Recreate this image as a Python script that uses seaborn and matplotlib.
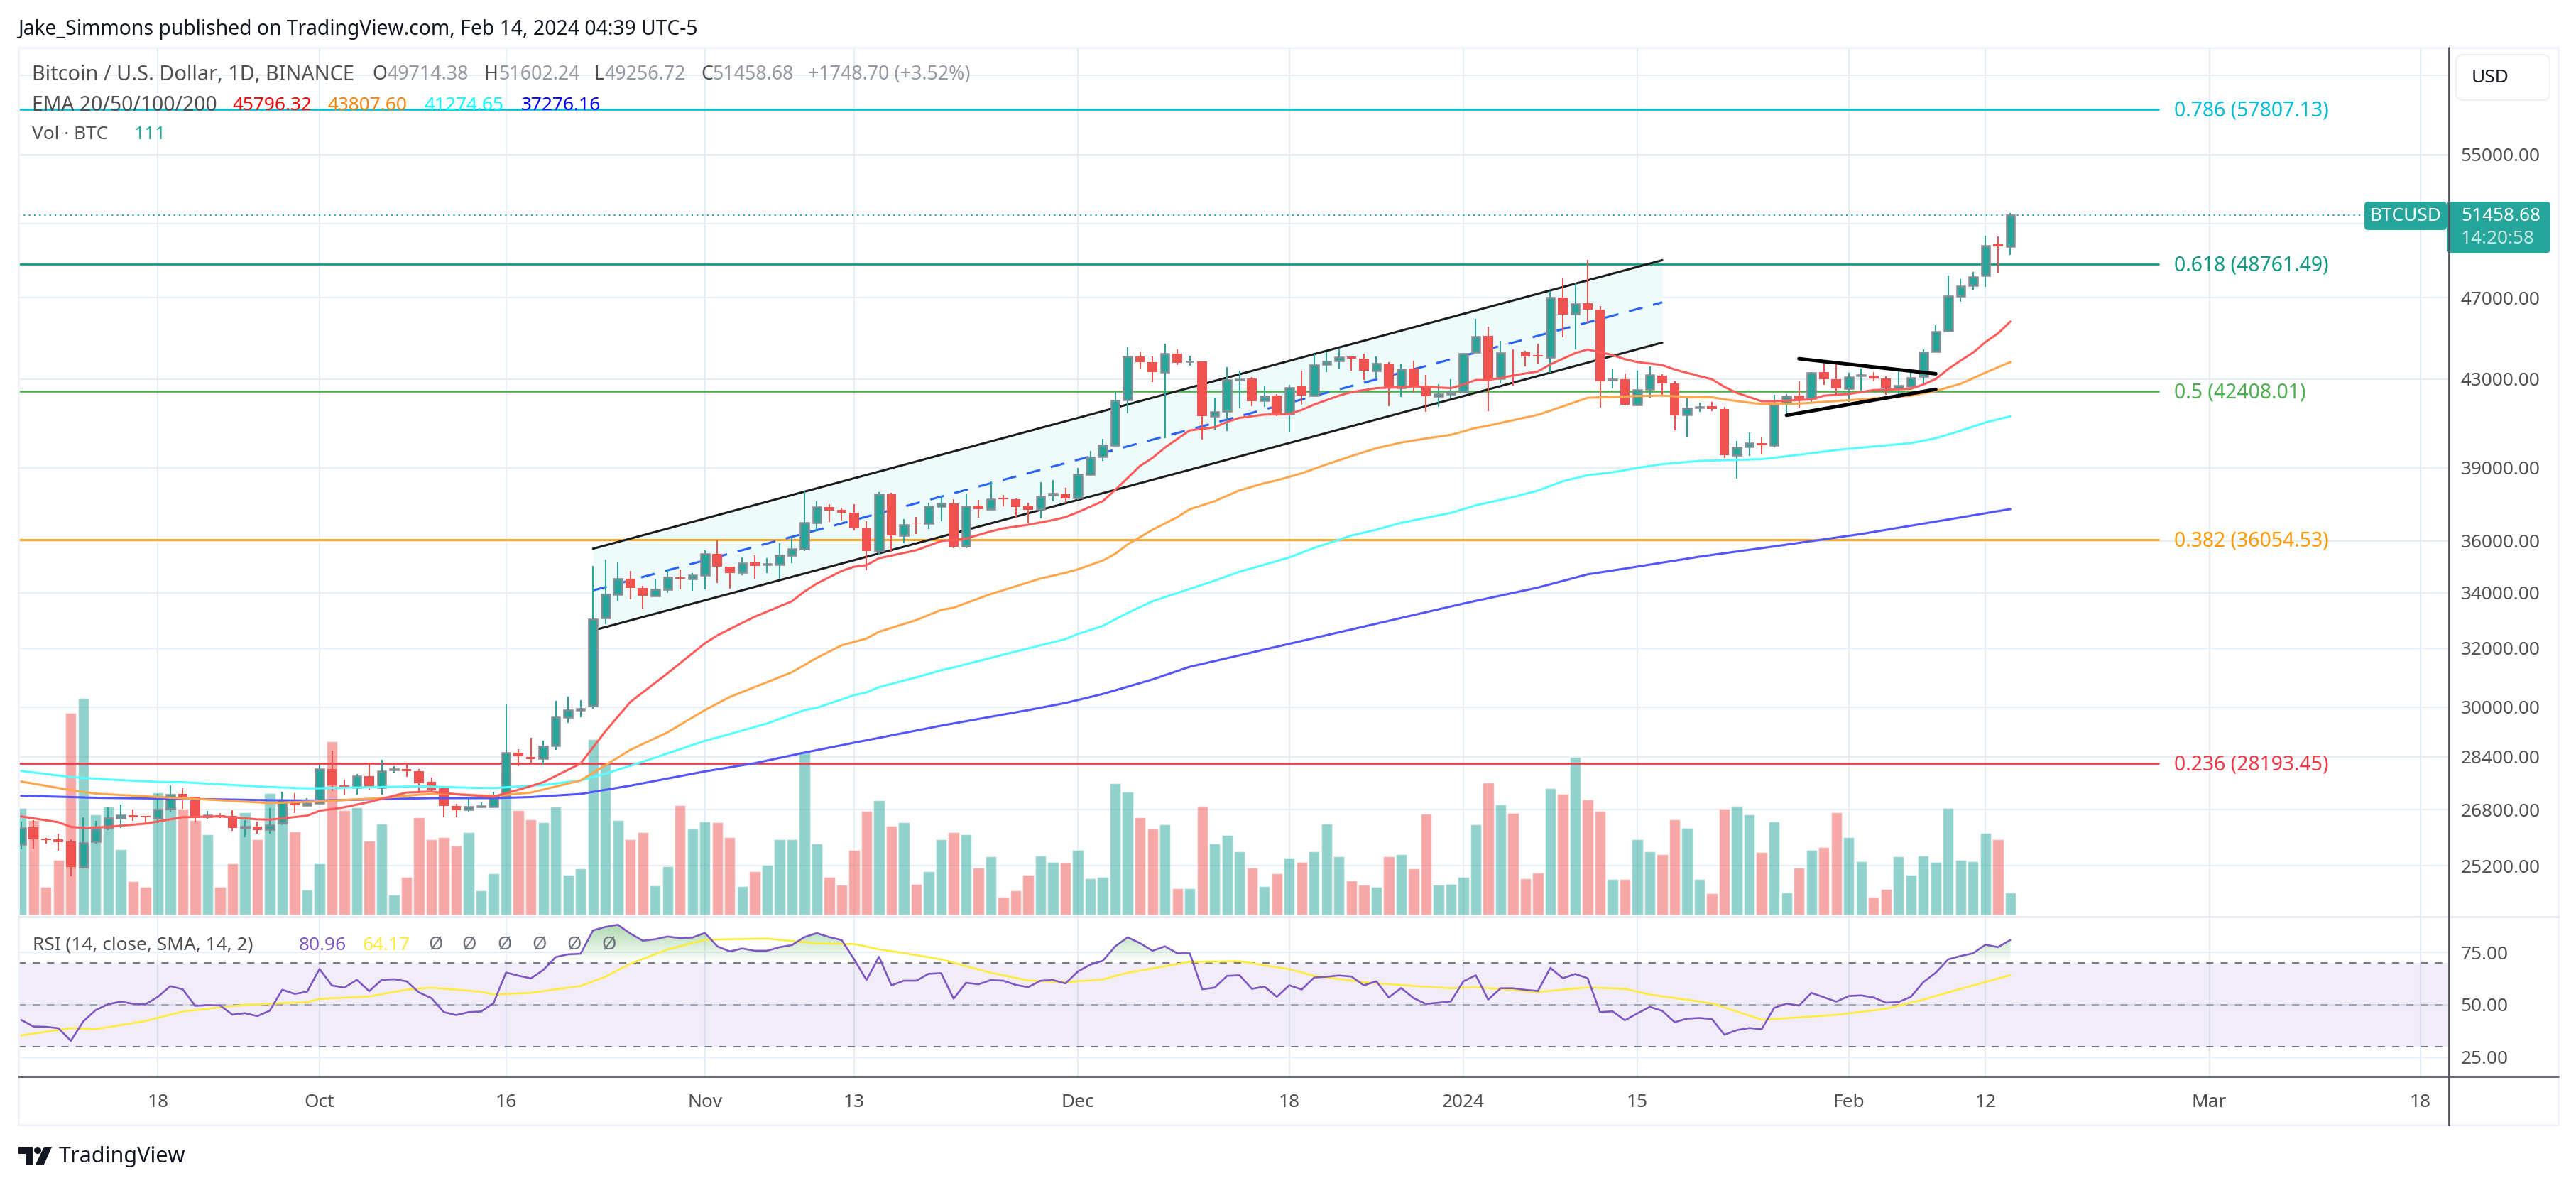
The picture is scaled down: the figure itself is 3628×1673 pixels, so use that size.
import numpy as np
import pandas as pd
import seaborn as sns
import matplotlib
matplotlib.use('Agg')
import matplotlib.pyplot as plt
import matplotlib.dates as mdates
from matplotlib.patches import FancyBboxPatch, Polygon, Circle, Rectangle
from matplotlib.path import Path
from matplotlib.ticker import NullLocator

# Daily candles, 7 Sep 2023 to 14 Feb 2024 (one line per month)
open_prices = [
    25801, 26290, 25970, 25936, 25874, 25156, 25874, 26269, 26560, 26643, 26612, 26550, 26820, 27278, 27174, 26602, 26633, 26623, 26269, 26300, 26217, 26404, 27090, 26934,
    26996, 28016, 27517, 27455, 27808, 27455, 28000, 28026, 27964, 27642, 27434, 26914, 26800, 26883, 26893, 27205, 28532, 28401, 28346, 28752, 29671, 29901, 30038, 33089, 33942, 34521, 34183, 33889, 34138, 34574, 34538,
    34672, 35476, 34985, 34778, 35152, 35068, 35078, 35430, 35680, 36731, 37349, 37240, 37125, 36495, 35606, 37895, 36208, 36731, 36700, 37390, 37510, 35798, 37410, 37285, 37742, 37675, 37410, 37266, 37870, 37881,
    37732, 38722, 39480, 39980, 42034, 44087, 43783, 43322, 44222, 43828, 43828, 41288, 41504, 42940, 43018, 42002, 42218, 41374, 42640, 42240, 43693, 43873, 44065, 43974, 43389, 43715, 42602, 43490, 42636, 42186, 42283,
    42392, 44290, 45092, 43018, 44290, 44278, 44132, 44030, 47016, 46176, 46724, 46395, 42940, 42985, 41796, 42511, 43165, 42793, 41342, 41677, 41731, 41612, 39553, 39928, 40085, 39980, 41872, 42218, 42076, 43320, 42985,
    42546, 43150, 43154, 43018, 42568, 42658, 43108, 44318, 45313, 47100, 47648, 48163, 49840, 49714.38]
high_prices = [
    26461, 26498, 25975, 26103, 25936, 26581, 26477, 26872, 26945, 26810, 26620, 27260, 27533, 27434, 27180, 26768, 26706, 26790, 26498, 26456, 26851, 27329, 27288, 27132,
    28162, 28598, 27694, 27860, 28162, 28302, 28105, 28162, 28016, 27756, 27496, 26976, 27122, 27018, 27340, 30076, 28642, 28992, 28905, 30197, 30350, 30219, 35030, 35263, 35152, 34832, 34272, 34512, 34850, 34892, 34760,
    35633, 36022, 35000, 35356, 35430, 35328, 35911, 36143, 38021, 37598, 37480, 37340, 37480, 36780, 37990, 37960, 36880, 36950, 37540, 37800, 37680, 37885, 37650, 38420, 37850, 37722, 37530, 38390, 38490, 38150,
    38992, 39740, 40260, 42380, 44528, 44312, 44065, 44706, 44402, 44110, 43850, 42131, 43558, 43400, 43100, 42650, 42294, 42727, 43400, 44222, 44312, 44425, 44070, 44200, 44065, 43783, 43727, 43862, 43198, 42750, 42996,
    44256, 45932, 45546, 44845, 44425, 44346, 44686, 47356, 48012, 47746, 49010, 46578, 43445, 43266, 43400, 43603, 43232, 42928, 42186, 41900, 41937, 41698, 40178, 40552, 40324, 42261, 42294, 42896, 43320, 43890, 43757,
    43300, 43480, 43320, 43130, 43530, 43355, 44424, 45593, 48163, 47999, 48340, 50313, 50274, 51602.24]
low_prices = [
    25659, 25676, 25830, 25624, 24917, 25125, 25822, 26197, 26269, 26477, 26394, 26404, 26716, 26820, 26425, 26529, 26560, 26186, 25999, 26113, 26103, 26352, 26706, 26924,
    26976, 27361, 27226, 27247, 27392, 27247, 27912, 27777, 27340, 27330, 26581, 26581, 26727, 26841, 26872, 27184, 28100, 28226, 28172, 28620, 29485, 29671, 29944, 32858, 33719, 33772, 33432, 33880, 33996, 34120, 34066,
    34120, 34360, 34165, 34672, 34521, 34760, 34539, 35143, 35587, 36376, 36760, 36808, 36408, 34850, 35420, 35540, 35893, 36280, 36466, 36770, 35700, 35696, 36931, 37256, 37380, 36920, 36731, 36900, 37598, 37530,
    37656, 38672, 39303, 39960, 41395, 43445, 42839, 40282, 43648, 43614, 40230, 40687, 40625, 41634, 41720, 41688, 41266, 40563, 41807, 42218, 43333, 43468, 43378, 42962, 43063, 41720, 42164, 42348, 41461, 41688, 42110,
    42348, 44256, 41515, 42793, 42700, 43603, 43738, 43277, 45020, 44402, 45700, 41677, 42569, 41770, 41785, 42110, 42218, 40656, 40313, 41461, 41515, 39439, 38552, 39532, 39564, 39875, 41407, 41644, 41861, 42736, 42294,
    41937, 42350, 42872, 42261, 42261, 42512, 42736, 44283, 45250, 46797, 47440, 47587, 48300, 49256.72]
close_prices = [
    26269, 25936, 25930, 25853, 25156, 25832, 26248, 26550, 26643, 26581, 26581, 26810, 27247, 27132, 26560, 26633, 26602, 26269, 26300, 26207, 26352, 27059, 26934, 26996,
    28016, 27517, 27434, 27798, 27434, 27964, 28030, 27954, 27600, 27403, 26914, 26789, 26883, 26914, 27184, 28521, 28423, 28335, 28730, 29660, 29901, 29945, 33045, 33933, 34521, 34183, 33889, 34120, 34574, 34521, 34672,
    35476, 34985, 34760, 35143, 35032, 35096, 35420, 35671, 36712, 37349, 37212, 37125, 36495, 35587, 37895, 36208, 36648, 36686, 37380, 37500, 35752, 37400, 37285, 37694, 37694, 37370, 37256, 37810, 37905, 37722,
    38712, 39459, 39969, 42002, 44086, 43783, 43310, 44222, 43749, 43850, 41266, 41482, 42940, 43000, 41948, 42175, 41331, 42586, 42240, 43659, 43850, 44053, 43963, 43378, 43715, 42569, 43445, 42636, 42175, 42283, 42392,
    44222, 45040, 42985, 44233, 44268, 44087, 44087, 47016, 46164, 46675, 46383, 42884, 42985, 41785, 42500, 43176, 42771, 41298, 41645, 41710, 41590, 39563, 39897, 40063, 39970, 41807, 42207, 42002, 43300, 42985, 42568,
    43075, 43190, 43007, 42602, 42680, 43041, 44295, 45289, 47076, 47624, 48100, 49788, 49714, 51458.68]
volumes = [
    538, 477, 138, 277, 1018, 1091, 503, 544, 328, 169, 141, 614, 544, 535, 477, 406, 138, 256, 517, 381, 611, 561, 420, 127,
    259, 872, 528, 542, 374, 457, 99, 191, 489, 381, 392, 346, 417, 120, 207, 720, 528, 478, 464, 545, 199, 231, 886, 764, 475, 381, 417, 148, 242, 552, 434,
    468, 464, 392, 144, 217, 249, 378, 378, 821, 357, 191, 152, 324, 524, 578, 449, 467, 155, 220, 381, 417, 406, 238, 292, 91, 120, 201, 298, 266, 260,
    327, 184, 188, 664, 621, 489, 432, 453, 131, 131, 549, 357, 400, 317, 238, 144, 209, 287, 266, 320, 460, 295, 171, 152, 141, 292, 306, 231, 510, 149, 155,
    188, 456, 667, 556, 513, 184, 212, 639, 610, 793, 581, 524, 180, 180, 378, 320, 303, 481, 438, 180, 106, 532, 546, 503, 314, 470, 112, 238, 327, 341, 516,
    392, 270, 88, 128, 292, 201, 298, 266, 538, 277, 270, 410, 381, 111]
rsi_values = [
    42.8, 39.6, 39.5, 38.8, 32.8, 42.1, 47.5, 50.3, 51.5, 50.5, 50.2, 53.8, 58.9, 57.4, 49.5, 49.8, 49.7, 45.3, 46.0, 44.6, 47.2, 57.2, 55.2, 56.2,
    67.1, 59.2, 58.2, 61.9, 56.5, 61.9, 62.2, 61.2, 55.9, 53.2, 46.5, 45.1, 46.5, 46.8, 50.8, 65.4, 63.9, 62.6, 66.6, 72.8, 74.1, 74.4, 85.5, 87.2, 88.2, 84.0, 80.6, 81.3, 82.6, 81.8, 82.1,
    84.3, 77.9, 75.5, 76.9, 75.8, 75.8, 77.5, 78.5, 82.3, 84.2, 82.3, 80.9, 71.7, 61.8, 72.9, 59.3, 61.5, 61.5, 64.8, 65.1, 52.9, 60.5, 59.8, 61.8, 61.5, 59.5, 58.4, 61.5, 61.8, 60.2,
    65.9, 69.2, 71.0, 77.9, 82.2, 79.4, 75.8, 77.9, 74.6, 74.6, 57.4, 58.2, 63.8, 64.1, 57.6, 58.7, 53.8, 59.3, 57.3, 63.0, 63.4, 64.0, 63.5, 59.3, 61.2, 53.5, 58.0, 53.2, 50.4, 51.0, 51.6,
    61.2, 64.1, 52.5, 57.9, 57.9, 57.1, 56.6, 67.6, 62.7, 64.7, 62.7, 46.5, 46.9, 42.6, 45.9, 49.0, 47.1, 41.7, 43.4, 43.7, 43.2, 35.7, 37.9, 38.9, 38.4, 48.5, 50.6, 49.6, 55.7, 53.6, 51.5,
    54.2, 54.5, 53.5, 51.0, 51.3, 53.8, 60.8, 65.3, 71.7, 73.3, 74.6, 78.7, 77.5, 80.96]

# Moving averages, read at the visible vertices
ema20_dates = ['Sep 7', 'Sep 10', 'Sep 11', 'Sep 12', 'Sep 14', 'Sep 17', 'Sep 20', 'Sep 23', 'Sep 26', 'Sep 27', 'Sep 30', 'Oct 1', 'Oct 3', 'Oct 5', 'Oct 8', 'Oct 10', 'Oct 12', 'Oct 15', 'Oct 17', 'Oct 19', 'Oct 22', 'Oct 24', 'Oct 26', 'Oct 27', 'Oct 29', 'Nov 1', 'Nov 2', 'Nov 4', 'Nov 5', 'Nov 8', 'Nov 9', 'Nov 10', 'Nov 12', 'Nov 13', 'Nov 14', 'Nov 15', 'Nov 16', 'Nov 18', 'Nov 20', 'Nov 22', 'Nov 24', 'Nov 25', 'Nov 27', 'Nov 29', 'Nov 30', 'Dec 1', 'Dec 3', 'Dec 4', 'Dec 5', 'Dec 6', 'Dec 7', 'Dec 8', 'Dec 9', 'Dec 10', 'Dec 11', 'Dec 12', 'Dec 13', 'Dec 14', 'Dec 16', 'Dec 18', 'Dec 19', 'Dec 20', 'Dec 22', 'Dec 23', 'Dec 25', 'Dec 27', 'Dec 28', 'Dec 31', 'Jan 1', 'Jan 2', 'Jan 3', 'Jan 4', 'Jan 5', 'Jan 7', 'Jan 8', 'Jan 10', 'Jan 11', 'Jan 12', 'Jan 13', 'Jan 14', 'Jan 15', 'Jan 17', 'Jan 18', 'Jan 20', 'Jan 21', 'Jan 22', 'Jan 23', 'Jan 25', 'Jan 26', 'Jan 29', 'Jan 30', 'Feb 1', 'Feb 3', 'Feb 6', 'Feb 7', 'Feb 8', 'Feb 9', 'Feb 10', 'Feb 11', 'Feb 12', 'Feb 13', 'Feb 14']
ema20_values = [26602, 26435, 26300, 26269, 26300, 26394, 26581, 26602, 26519, 26508, 26623, 26768, 26872, 27028, 27309, 27340, 27257, 27184, 27392, 27621, 28193, 29211, 30164, 30484, 31130, 32170, 32450, 32900, 33120, 33690, 34050, 34350, 34830, 34990, 35050, 35320, 35420, 35630, 35990, 36090, 36376, 36495, 36640, 36830, 36950, 37150, 37600, 38070, 38570, 39085, 39430, 39880, 40260, 40640, 40705, 40780, 41017, 41200, 41350, 41374, 41560, 41807, 42218, 42380, 42569, 42610, 42650, 42569, 42735, 42950, 42950, 43040, 43165, 43355, 43693, 44233, 44413, 44278, 44143, 43940, 43806, 43660, 43446, 43131, 42985, 42625, 42348, 41958, 41958, 42047, 42215, 42294, 42478, 42535, 42736, 42996, 43470, 43878, 44260, 44780, 45200, 45796.32]
ema50_dates = ['Sep 7', 'Sep 11', 'Sep 13', 'Sep 17', 'Sep 22', 'Sep 27', 'Oct 1', 'Oct 6', 'Oct 9', 'Oct 11', 'Oct 15', 'Oct 18', 'Oct 22', 'Oct 24', 'Oct 26', 'Oct 29', 'Nov 1', 'Nov 3', 'Nov 8', 'Nov 10', 'Nov 12', 'Nov 13', 'Nov 14', 'Nov 15', 'Nov 18', 'Nov 20', 'Nov 21', 'Nov 24', 'Nov 28', 'Nov 30', 'Dec 1', 'Dec 3', 'Dec 4', 'Dec 5', 'Dec 7', 'Dec 9', 'Dec 10', 'Dec 12', 'Dec 14', 'Dec 16', 'Dec 17', 'Dec 19', 'Dec 21', 'Dec 23', 'Dec 25', 'Dec 27', 'Dec 29', 'Dec 31', 'Jan 2', 'Jan 3', 'Jan 7', 'Jan 9', 'Jan 11', 'Jan 13', 'Jan 15', 'Jan 17', 'Jan 19', 'Jan 21', 'Jan 22', 'Jan 24', 'Jan 25', 'Jan 28', 'Jan 31', 'Feb 3', 'Feb 6', 'Feb 8', 'Feb 10', 'Feb 12', 'Feb 14']
ema50_values = [27642, 27382, 27278, 27195, 27101, 26996, 27049, 27143, 27247, 27278, 27205, 27309, 27673, 28141, 28620, 29178, 29896, 30330, 31165, 31660, 32100, 32220, 32340, 32580, 33000, 33370, 33450, 33960, 34540, 34760, 34890, 35230, 35490, 35860, 36440, 36950, 37270, 37600, 38050, 38350, 38470, 38770, 39150, 39510, 39850, 40100, 40280, 40440, 40750, 40850, 41340, 41720, 42120, 42160, 42200, 42220, 42160, 42140, 42047, 41893, 41828, 41850, 41970, 42090, 42215, 42440, 42770, 43300, 43807.60]
ema100_dates = ['Sep 7', 'Sep 11', 'Sep 14', 'Sep 18', 'Sep 20', 'Sep 27', 'Sep 30', 'Oct 6', 'Oct 9', 'Oct 13', 'Oct 15', 'Oct 19', 'Oct 22', 'Oct 24', 'Oct 27', 'Nov 1', 'Nov 3', 'Nov 6', 'Nov 9', 'Nov 10', 'Nov 13', 'Nov 14', 'Nov 15', 'Nov 18', 'Nov 20', 'Nov 21', 'Nov 26', 'Nov 30', 'Dec 1', 'Dec 3', 'Dec 5', 'Dec 7', 'Dec 10', 'Dec 12', 'Dec 14', 'Dec 16', 'Dec 18', 'Dec 20', 'Dec 23', 'Dec 25', 'Dec 27', 'Dec 31', 'Jan 2', 'Jan 5', 'Jan 7', 'Jan 9', 'Jan 11', 'Jan 13', 'Jan 15', 'Jan 17', 'Jan 20', 'Jan 25', 'Jan 28', 'Jan 31', 'Feb 3', 'Feb 6', 'Feb 8', 'Feb 10', 'Feb 12', 'Feb 14']
ema100_values = [27964, 27777, 27704, 27631, 27621, 27475, 27434, 27475, 27497, 27455, 27444, 27538, 27673, 27881, 28248, 28905, 29120, 29460, 29896, 29970, 30390, 30484, 30660, 30990, 31230, 31330, 31880, 32319, 32500, 32790, 33260, 33690, 34150, 34460, 34800, 35070, 35350, 35720, 36210, 36440, 36720, 37120, 37430, 37771, 38040, 38430, 38690, 38810, 39000, 39160, 39300, 39376, 39564, 39772, 39928, 40074, 40292, 40625, 40995, 41274.65]
ema200_dates = ['Sep 7', 'Sep 13', 'Sep 20', 'Sep 27', 'Oct 1', 'Oct 6', 'Oct 10', 'Oct 15', 'Oct 18', 'Oct 22', 'Oct 26', 'Nov 1', 'Nov 5', 'Nov 9', 'Nov 13', 'Nov 20', 'Nov 27', 'Nov 30', 'Dec 3', 'Dec 7', 'Dec 10', 'Dec 11', 'Jan 1', 'Jan 5', 'Jan 7', 'Jan 11', 'Jan 14', 'Jan 20', 'Jan 26', 'Feb 2', 'Feb 8', 'Feb 14']
ema200_values = [27215, 27153, 27122, 27080, 27070, 27112, 27143, 27143, 27174, 27267, 27517, 27950, 28203, 28533, 28845, 29390, 29896, 30130, 30430, 30920, 31350, 31450, 33603, 34000, 34200, 34700, 34920, 35380, 35780, 36270, 36770, 37276.16]
rsi_ma_dates = ['Sep 7', 'Sep 11', 'Sep 13', 'Sep 17', 'Sep 20', 'Sep 25', 'Sep 30', 'Oct 1', 'Oct 5', 'Oct 8', 'Oct 10', 'Oct 14', 'Oct 15', 'Oct 18', 'Oct 22', 'Oct 24', 'Oct 26', 'Oct 29', 'Nov 1', 'Nov 3', 'Nov 6', 'Nov 10', 'Nov 13', 'Nov 15', 'Nov 17', 'Nov 20', 'Nov 24', 'Nov 27', 'Nov 30', 'Dec 3', 'Dec 5', 'Dec 10', 'Dec 14', 'Dec 18', 'Dec 20', 'Dec 24', 'Dec 28', 'Dec 31', 'Jan 2', 'Jan 7', 'Jan 11', 'Jan 14', 'Jan 16', 'Jan 21', 'Jan 25', 'Jan 26', 'Jan 31', 'Feb 1', 'Feb 4', 'Feb 7', 'Feb 10', 'Feb 14']
rsi_ma_values = [35.4, 38.8, 38.3, 42.3, 46.8, 50.0, 51.3, 52.8, 54.0, 57.2, 58.2, 56.2, 54.9, 55.7, 59.0, 63.4, 69.6, 76.4, 81.0, 81.3, 81.6, 79.3, 79.0, 76.5, 74.7, 71.7, 65.3, 61.6, 60.8, 62.1, 65.3, 70.5, 70.8, 67.0, 63.8, 60.8, 59.0, 57.9, 58.4, 56.1, 58.3, 57.6, 54.9, 50.7, 42.9, 43.2, 45.2, 45.9, 48.1, 52.5, 57.6, 64.17]

# Fibonacci levels
fib_ratios = ['0.786', '0.618', '0.5', '0.382', '0.236']
fib_prices = [57807.13, 48761.49, 42408.01, 36054.53, 28193.45]
fib_colors = ['#00bcd4', '#089981', '#4caf50', '#ff9800', '#f23645']

# Drawn trend channel and triangle
channel_dates = ['Oct 23', 'Jan 17']
channel_upper = [35690, 48984]
channel_middle = [34093, 46772]
channel_lower = [32627, 44752]
triangle_top_dates = ['Jan 28', 'Feb 8']
triangle_top = [43964, 43243]
triangle_bottom_dates = ['Jan 27', 'Feb 8']
triangle_bottom = [41319, 42513]

# Axis ticks
price_grid = [60000, 55000, 51000, 47000, 43000, 39000, 36000, 34000, 32000, 30000, 28400, 26800, 25200]
price_hidden = [60000, 51000]
time_ticks = ['Sep 18', 'Oct 1', 'Oct 16', 'Nov 1', 'Nov 13', 'Dec 1', 'Dec 18', 'Jan 1', 'Jan 15', 'Feb 1', 'Feb 12', 'Mar 1', 'Mar 18']
time_labels = ['18', 'Oct', '16', 'Nov', '13', 'Dec', '18', '2024', '15', 'Feb', '12', 'Mar', '18']
rsi_ticks = [75, 50, 25]

W, H = 3628, 1673
LEFT, RIGHT, TOP, PANE, BOTTOM, OUTER_R, OUTER_B = 25.5, 3449, 67, 1290.6, 1516, 3603, 1584
GRID = '#e6edf4'
GREEN = '#26a69a'
RED = '#ef5350'
LABEL = '#4f4f4f'
FONT = 18.9
FONT_WIDE = 20.4


def to_day(text):
    year = '2024' if text[:3] in ('Jan', 'Feb', 'Mar') else '2023'
    return mdates.date2num(pd.to_datetime(f'{text} {year}', format='%b %d %Y'))


def days(texts):
    return [to_day(t) for t in texts]


def px_rect(l, t, r, b):
    return [l / W, 1 - b / H, (r - l) / W, (b - t) / H]


sns.set_theme(style='white', rc={'axes.facecolor': 'none', 'figure.facecolor': 'white'})
plt.rcParams['font.family'] = ['Noto Sans', 'DejaVu Sans']

df = pd.DataFrame({
    'day': mdates.date2num(pd.date_range('2023-09-07', periods=len(close_prices))),
    'open': open_prices, 'high': high_prices, 'low': low_prices, 'close': close_prices,
    'volume': volumes, 'rsi': rsi_values,
})
df['up'] = df['close'] >= df['open']

oct1 = to_day('Oct 1')
x_left = oct1 + (LEFT - 450) / 17.51
x_right = oct1 + (RIGHT - 450) / 17.51
price_lim = (23837, 61860)

fig = plt.figure(figsize=(W / 100, H / 100), dpi=100)

# Bottom layer: grid and price labels
ax_grid = fig.add_axes(px_rect(LEFT, TOP, RIGHT, PANE), zorder=0)
ax_grid.set_yscale('log')
ax_grid.set_ylim(*price_lim)
ax_grid.set_xlim(x_left, x_right)
ax_grid.yaxis.set_minor_locator(NullLocator())
ax_grid.set_yticks(price_grid)
ax_grid.set_yticklabels(['' if p in price_hidden else f'{p:.2f}' for p in price_grid])
ax_grid.set_xticks(days(time_ticks))
ax_grid.yaxis.tick_right()
ax_grid.tick_params(axis='y', length=0, pad=12, labelsize=FONT, labelcolor=LABEL)
ax_grid.tick_params(axis='x', length=0, labelbottom=False)
ax_grid.grid(True, color=GRID, lw=1.45)
sns.despine(ax=ax_grid, left=True, bottom=True, right=True, top=True)

# Volume
ax_vol = fig.add_axes(px_rect(LEFT, TOP, RIGHT, PANE), zorder=1)
sns.barplot(data=df, x='day', y='volume', hue='up', palette={True: GREEN, False: RED},
            native_scale=True, dodge=False, width=0.875, saturation=1, alpha=0.5,
            errorbar=None, legend=False, ax=ax_vol)
ax_vol.set_xlim(x_left, x_right)
ax_vol.set_ylim(-9.3, 4371)
ax_vol.axis('off')

# Price pane
ax = fig.add_axes(px_rect(LEFT, TOP, RIGHT, PANE), zorder=2)
ax.set_yscale('log')

ax.fill_between(days(channel_dates), channel_lower, channel_upper, color='#eefbfb', lw=0, zorder=1)
for ratio, price, color in zip(fib_ratios, fib_prices, fib_colors):
    ax.hlines(price, x_left, to_day('Feb 26'), color=color, lw=1.9, zorder=2)
    ax.annotate(f'{ratio} ({price})', xy=(to_day('Feb 26') + 1.15, price), xytext=(0, -1.5),
                textcoords='offset points', color=color, fontsize=FONT_WIDE,
                va='center', ha='left', zorder=8)
ax.hlines(close_prices[-1], x_left, to_day('Mar 1') + 12.6, color=GREEN, lw=1.5,
          linestyles=(0, (1, 2.5)), zorder=2)
for values in (channel_upper, channel_lower):
    sns.lineplot(x=days(channel_dates), y=values, color='#1c1c1c', lw=2.2, errorbar=None, ax=ax, zorder=3)
ax.plot(days(channel_dates), channel_middle, color='#2962ff', lw=2.2, dashes=(6.5, 5), zorder=3)

# Candles
up = df[df['up']]
down = df[~df['up']]
ax.vlines(up['day'], up['low'], up['high'], color=GREEN, lw=1.45, zorder=4)
ax.vlines(down['day'], down['low'], down['high'], color=RED, lw=1.45, zorder=4)
ax.bar(up['day'], up['close'] - up['open'], bottom=up['open'], width=0.66, color=GREEN,
       edgecolor='#868b93', linewidth=1.8, zorder=5)
ax.bar(down['day'], down['open'] - down['close'], bottom=down['close'], width=0.78, color=RED,
       linewidth=0, zorder=5)

# EMAs
ema_sets = [(ema200_dates, ema200_values, '#5555ff'), (ema100_dates, ema100_values, '#55ffff'),
            (ema50_dates, ema50_values, '#ffa64d'), (ema20_dates, ema20_values, '#ff5b5b')]
for ema_dates, ema_values, color in ema_sets:
    sns.lineplot(x=days(ema_dates), y=ema_values, color=color, lw=2.2, errorbar=None, ax=ax, zorder=6)

# Hand drawn triangle
sns.lineplot(x=days(triangle_top_dates), y=triangle_top, color='black', lw=3.6, errorbar=None, ax=ax, zorder=7)
sns.lineplot(x=days(triangle_bottom_dates), y=triangle_bottom, color='black', lw=3.6, errorbar=None, ax=ax, zorder=7)

ax.set_xlim(x_left, x_right)
ax.set_ylim(*price_lim)
ax.axis('off')

# RSI pane
ax_rsi = fig.add_axes(px_rect(LEFT, PANE, RIGHT, BOTTOM), zorder=1)
ax_rsi.set_xlim(x_left, x_right)
ax_rsi.set_ylim(15.76, 92.17)
ax_rsi.set_yticks(rsi_ticks)
ax_rsi.set_yticklabels([f'{t:.2f}' for t in rsi_ticks])
ax_rsi.yaxis.tick_right()
ax_rsi.set_xticks(days(time_ticks))
ax_rsi.set_xticklabels(time_labels)
ax_rsi.get_xticklabels()[time_labels.index('2024')].set_fontweight('bold')
ax_rsi.tick_params(axis='y', length=0, pad=12, labelsize=FONT, labelcolor=LABEL)
ax_rsi.tick_params(axis='x', length=0, pad=17, labelsize=FONT, labelcolor=LABEL)
ax_rsi.grid(True, color=GRID, lw=1.45)
ax_rsi.set_axisbelow(True)
sns.despine(ax=ax_rsi, left=True, bottom=True, right=True, top=True)

ax_rsi.axhspan(30, 70, color='#7e57c2', alpha=0.1, lw=0)
for level, alpha in ((70, 1), (50, 0.6), (30, 1)):
    ax_rsi.hlines(level, x_left, x_right, color='#787b86', lw=1.45, alpha=alpha,
                  linestyles=(0, (5, 5)))

rsi_array = df['rsi'].to_numpy()
area = ax_rsi.fill_between(df['day'], rsi_array, 70, where=rsi_array >= 70, interpolate=True, color='none')
shade = np.zeros((64, 1, 4))
shade[..., 0], shade[..., 1], shade[..., 2] = 0.30, 0.69, 0.31
shade[:, 0, 3] = np.linspace(0.5, 0, 64)
im = ax_rsi.imshow(shade, extent=[x_left, x_right, 70, 90], origin='upper', aspect='auto', zorder=1.5)
im.set_clip_path(Path.make_compound_path(*area.get_paths()), transform=ax_rsi.transData)
ax_rsi.set_xlim(x_left, x_right)
ax_rsi.set_ylim(15.76, 92.17)

sns.lineplot(x=days(rsi_ma_dates), y=rsi_ma_values, color='#ffeb3b', lw=1.9, errorbar=None, ax=ax_rsi, zorder=3)
sns.lineplot(data=df, x='day', y='rsi', color='#7e57c2', lw=1.9, errorbar=None, ax=ax_rsi, zorder=4)
ax_rsi.set_xlabel('')
ax_rsi.set_ylabel('')

# Overlay in pixels: frames, header, tags, logo
ov = fig.add_axes([0, 0, 1, 1], zorder=10)
ov.set_xlim(0, W)
ov.set_ylim(H, 0)
ov.axis('off')

ov.add_patch(Rectangle((LEFT, TOP), OUTER_R - LEFT, OUTER_B - TOP, fill=False, ec='#f0f3fa', lw=2))
ov.plot([LEFT, OUTER_R], [PANE, PANE], color='#e0e3eb', lw=1.8)
ov.plot([LEFT, OUTER_R], [BOTTOM, BOTTOM], color='#50535e', lw=2)
ov.plot([RIGHT, RIGHT], [TOP, OUTER_B], color='#50535e', lw=2)

ov.text(25, 41, 'Jake_Simmons published on TradingView.com, Feb 14, 2024 04:39 UTC-5',
        color='#131722', fontsize=FONT_WIDE, va='center')


def row(pieces, y, size=FONT):
    for px, text, color in pieces:
        ov.text(px, y, text, color=color, fontsize=size, va='center')


row([(45, 'Bitcoin / U.S. Dollar, 1D, BINANCE', LABEL)], 105, 20.8)
row([(524, 'O', LABEL), (545, '49714.38', '#9598a1'),
     (681, 'H', LABEL), (702, '51602.24', '#9598a1'), (836, 'L', LABEL), (852, '49256.72', '#9598a1'),
     (987, 'C', LABEL), (1003, '51458.68', '#9598a1'), (1138, '+1748.70 (+3.52%)', '#9598a1')], 105, 19.3)
row([(45, 'EMA 20/50/100/200', LABEL)], 148, 20.4)
row([(328, '45796.32', '#ff0000'), (462, '43807.60', '#ff8000'),
     (598, '41274.65', '#00ffff'), (734, '37276.16', '#0000ff')], 148)
row([(45, 'Vol · BTC', LABEL), (189, '111', GREEN)], 189)
row([(46, 'RSI (14, close, SMA, 14, 2)', LABEL), (421, '80.96', '#7e57c2'), (510, '64.17', '#ffeb3b')], 1331)
for px in (603, 650, 700, 749, 798, 847):
    ov.text(px, 1331, 'Ø', color='#6f727c', fontsize=FONT, va='center')

# USD button and last price tags
ov.add_patch(FancyBboxPatch((3466, 84), 118, 50, boxstyle='round,pad=7,rounding_size=10', fc='white', ec='#eef0f5', lw=1.5))
ov.text(3481, 109, 'USD', color='#131722', fontsize=FONT, va='center')
ov.add_patch(FancyBboxPatch((3334, 288), 108, 32, boxstyle='round,pad=4,rounding_size=5', fc=GREEN, ec='none'))
ov.text(3388, 304, 'BTCUSD', color='white', fontsize=FONT, va='center', ha='center')
ov.add_patch(FancyBboxPatch((3450, 288), 138, 64, boxstyle='round,pad=4,rounding_size=5', fc=GREEN, ec='none'))
ov.text(3466, 304, '51458.68', color='white', fontsize=FONT, va='center')
ov.text(3466, 336, '14:20:58', color='white', alpha=0.75, fontsize=FONT, va='center')

# TradingView logo
ov.add_patch(Polygon([(25.5, 1615), (46, 1615), (46, 1640), (36, 1640), (36, 1625), (25.5, 1625)], fc='#131722', ec='none'))
ov.add_patch(Circle((53, 1620), 5, fc='#131722', ec='none'))
ov.add_patch(Polygon([(62, 1615), (73, 1615), (62, 1640), (50, 1640)], fc='#131722', ec='none'))
ov.text(83, 1629, 'TradingView', color='#131722', fontsize=22, va='center', fontweight='medium')

fig.savefig('out.png', dpi=100)
